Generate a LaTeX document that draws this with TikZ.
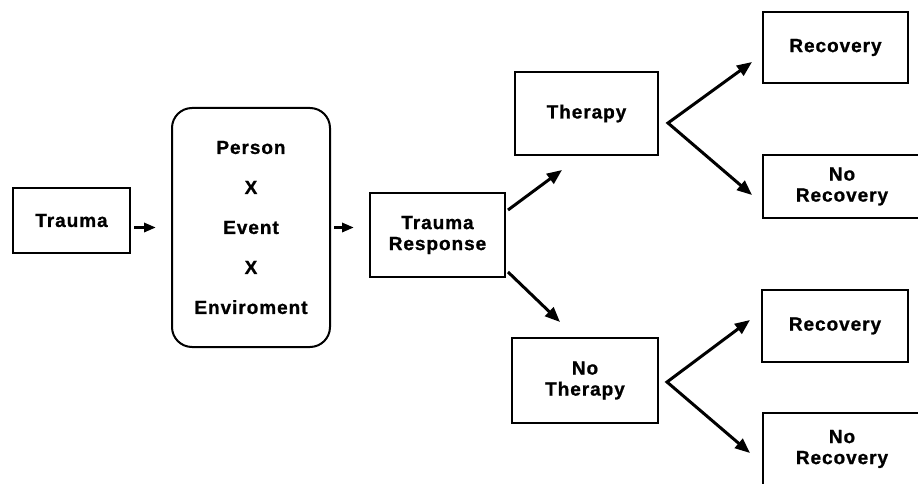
\documentclass[tikz,border=0pt]{standalone}
\usepackage{fontspec}
\setmainfont[LetterSpace=5, BoldFeatures={FakeBold=1}]{Liberation Sans}
\usetikzlibrary{arrows.meta}

\tikzset{
  box/.style={draw, line width=2pt, inner sep=0pt, align=center, font=\bfseries\fontsize{19}{21}\selectfont},
  tick/.style={line width=3pt, -{Triangle[length=12pt,width=9pt]}},
  arr/.style={line width=3pt, -{Triangle[length=15pt,width=12pt]}},
  vee/.style={line width=3pt, {Triangle[length=15pt,width=12pt]}-{Triangle[length=15pt,width=12pt]}}
}

\begin{document}
\begin{tikzpicture}[x=1pt,y=-1pt]
        \useasboundingbox (0,0) rectangle (918,484);
        \clip (0,0) rectangle (918,484);
        \node[box, minimum width=117pt, minimum height=65pt] (trauma) at (71.5,220.5) {Trauma};
        \node[box, rounded corners=20pt, minimum width=158pt, minimum height=239pt, font=\bfseries\fontsize{19}{40}\selectfont] (pex) at (251,227.5) {Person\\X\\Event\\X\\Enviroment};
        \node[box, minimum width=135pt, minimum height=84pt] (tresp) at (437.5,235) {Trauma\\Response};
        \node[box, minimum width=143pt, minimum height=83pt] (ther) at (586.5,113.5) {Therapy};
        \node[box, minimum width=146pt, minimum height=85pt] (nother) at (585,380.5) {No\\Therapy};
        \node[box, minimum width=145pt, minimum height=71pt] (rec1) at (835.5,47.5) {Recovery};
        \node[box, minimum width=158pt, minimum height=63pt] (norec1) at (842,186.5) {No\\Recovery};
        \node[box, minimum width=146pt, minimum height=72pt] (rec2) at (835,326) {Recovery};
        \node[box, minimum width=158pt, minimum height=72pt] (norec2) at (842,449) {No\\Recovery};
        \coordinate (therin) at (562,170);
        \coordinate (notherin) at (560,322);
        \coordinate (therfork) at (668,123);
        \coordinate (notherfork) at (667,382);
        \coordinate (rec1in) at (752,62);
        \coordinate (norec1in) at (752,195);
        \coordinate (rec2in) at (750,320);
        \coordinate (norec2in) at (750,453);
        \draw[tick, shorten <=3pt, shorten >=15pt] (trauma.east |- pex.center) -- (pex.west);
        \draw[tick, shorten <=3pt, shorten >=15pt] (pex.east) -- (pex.east -| tresp.west);
        \draw[arr] ([xshift=2pt,yshift=25pt]tresp.east) -- (therin);
        \draw[arr] ([xshift=2pt,yshift=-37pt]tresp.east) -- (notherin);
        \draw[vee] (rec1in) -- (therfork) -- (norec1in);
        \draw[vee] (rec2in) -- (notherfork) -- (norec2in);
      \end{tikzpicture}
\end{document}
